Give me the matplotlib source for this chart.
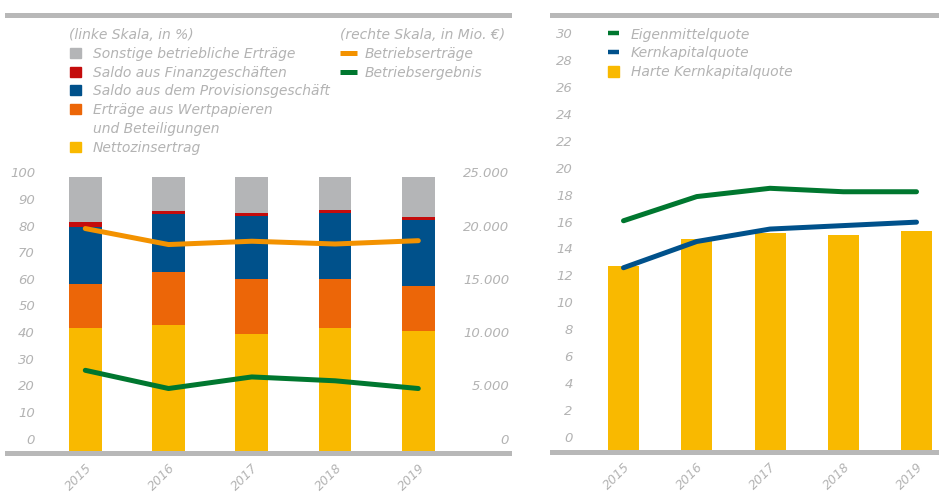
import matplotlib
matplotlib.use("Agg")
import matplotlib.pyplot as plt
from matplotlib.patches import Rectangle
from matplotlib.lines import Line2D
import numpy as np

# ---------------- data ----------------
years = ["2015", "2016", "2017", "2018", "2019"]

# left chart: structure of operating income (left scale, %)
nettozins = [45.1, 46.1, 42.8, 45.0, 43.9]
wertpapiere = [16.0, 19.4, 20.1, 17.9, 16.5]
provision = [20.5, 21.0, 23.0, 23.8, 23.9]
finanz = [1.8, 1.0, 1.1, 1.1, 1.0]
sonstige = [16.6, 12.5, 13.0, 12.2, 14.7]

# left chart lines (right scale, Mio. EUR)
betriebsertraege = [20300, 18850, 19150, 18900, 19200]
betriebsergebnis = [7450, 5800, 6850, 6500, 5800]

# right chart: capital ratios (%)
harte_kernkapital = [13.4, 15.4, 15.8, 15.7, 15.95]
kernkapital = [13.3, 15.2, 16.1, 16.35, 16.6]
eigenmittel = [16.7, 18.45, 19.05, 18.8, 18.8]

left_ticks = [0, 10, 20, 30, 40, 50, 60, 70, 80, 90, 100]
right_ticks = [0, 5000, 10000, 15000, 20000, 25000]
ratio_ticks = list(range(0, 31, 2))

# ---------------- style ----------------
C_GRAY = "#b4b5b7"
C_RED = "#c40c0c"
C_BLUE = "#00518b"
C_ORANGE = "#ec6608"
C_YELLOW = "#f9b900"
C_LORANGE = "#f39200"
C_GREEN = "#00772f"
C_TEXT = "#b3b3b3"
C_RULE = "#b8b8b8"

plt.rcParams["font.family"] = ["DejaVu Sans"]
plt.rcParams["font.style"] = "italic"
FS = 9.5      # tick labels
FS_LEG = 10   # legend texts
FS_X = 9      # year labels

W, H = 939, 492
fig = plt.figure(figsize=(W / 100, H / 100), dpi=100)


def fx(x):
    return x / W


def fy(y):
    return 1 - y / H


def add_axes_px(x0, x1, ytop, ybot):
    return fig.add_axes([fx(x0), fy(ybot), (x1 - x0) / W, (ybot - ytop) / H])


def style_axes(ax):
    for s in ["left", "right"]:
        ax.spines[s].set_visible(False)
    for s in ["top", "bottom"]:
        ax.spines[s].set_color(C_RULE)
        ax.spines[s].set_linewidth(3.6)
    ax.tick_params(length=0, colors=C_TEXT, labelsize=FS)
    ax.tick_params(axis="x", labelsize=FS_X, pad=6)


# ================= LEFT CHART =================
L_X0, L_X1, L_TOP, L_BOT = 7, 509, 14.5, 452.5
ax = add_axes_px(L_X0, L_X1, L_TOP, L_BOT)
style_axes(ax)
pxu = (L_BOT - 176.7) / 100.0  # pixels per percent
ax.set_ylim(0, (L_BOT - L_TOP) / pxu)
x = np.arange(len(years))
spacing = 83.25
ax.set_xlim(-(85.3 - L_X0) / spacing, 4 + (L_X1 - 418.3) / spacing)
bw = 32.7 / spacing

bottom = np.zeros(len(years))
for vals, col in [(nettozins, C_YELLOW), (wertpapiere, C_ORANGE), (provision, C_BLUE),
                  (finanz, C_RED), (sonstige, C_GRAY)]:
    ax.bar(x, vals, bw, bottom=bottom, color=col, zorder=1)
    bottom = bottom + np.array(vals)

# tick labels placed where the reference shows them
lab_pos = [(L_BOT - (438.7 - k * 2.664)) / pxu for k in left_ticks]
ax.set_yticks(lab_pos)
ax.set_yticklabels([str(k) for k in left_ticks])
ax.tick_params(axis="y", pad=-(35 - L_X0) * 0.72)
ax.set_xticks(x)
ax.set_xticklabels(years, rotation=45, ha="right", rotation_mode="anchor")

ax2 = ax.twinx()
ax2.set_ylim(0, ax.get_ylim()[1] * 250)
for s in ax2.spines.values():
    s.set_visible(False)
ax2.plot(x, betriebsertraege, color=C_LORANGE, lw=3.6, solid_capstyle="round", zorder=3)
ax2.plot(x, betriebsergebnis, color=C_GREEN, lw=3.6, solid_capstyle="round", zorder=3)
ax2.set_yticks([p * 250 for p in lab_pos[::2]])
ax2.set_yticklabels([f"{v:,}".replace(",", ".") for v in right_ticks])
ax2.tick_params(axis="y", length=0, colors=C_TEXT, labelsize=FS, pad=0)
for lbl in ax2.get_yticklabels():
    lbl.set_horizontalalignment("right")

# legend (left chart)
def ftext(xp, yp, s, **kw):
    fig.text(fx(xp), fy(yp), s, color=C_TEXT, fontsize=FS_LEG, va="baseline", ha="left", **kw)


def fsquare(x0, y0, w, h, col):
    fig.add_artist(Rectangle((fx(x0), fy(y0 + h)), w / W, h / H, color=col,
                             transform=fig.transFigure))


def fdash(x0, x1, yc, col, lw=3.6):
    fig.add_artist(Line2D([fx(x0), fx(x1)], [fy(yc), fy(yc)], color=col, lw=lw,
                          transform=fig.transFigure, solid_capstyle="butt"))


ftext(69, 39, "(linke Skala, in %)")
leg_left = [("Sonstige betriebliche Erträge", C_GRAY, 52.7),
            ("Saldo aus Finanzgeschäften", C_RED, 71.7),
            ("Saldo aus dem Provisionsgeschäft", C_BLUE, 90.3),
            ("Erträge aus Wertpapieren", C_ORANGE, 109.0),
            ("Nettozinsertrag", C_YELLOW, 146.7)]
for lab, col, yc in leg_left:
    fsquare(69.5, yc - 5, 11, 10, col)
    ftext(92.7, yc + 5.0, lab)
ftext(92.7, 132.7, "und Beteiligungen")

ftext(340, 39, "(rechte Skala, in Mio. €)")
for lab, col, yc in [("Betriebserträge", C_LORANGE, 53.3), ("Betriebsergebnis", C_GREEN, 71.7)]:
    fdash(340, 357, yc, col)
    ftext(364.3, yc + 5.0, lab)

# ================= RIGHT CHART =================
R_X0, R_X1, R_TOP, R_BOT = 552, 939, 15, 451.5
axr = add_axes_px(R_X0, R_X1, R_TOP, R_BOT)
style_axes(axr)
pxr = (R_BOT - 37.0) / 30.0
axr.set_ylim(0, (R_BOT - R_TOP) / pxr)
sp2 = 73.25
axr.set_xlim(-(623.5 - R_X0) / sp2, 4 + (R_X1 - 916.5) / sp2)
axr.bar(x, harte_kernkapital, 31 / sp2, color=C_YELLOW, zorder=1)
axr.plot(x, eigenmittel, color=C_GREEN, lw=3.6, solid_capstyle="round", zorder=3)
axr.plot(x, kernkapital, color=C_BLUE, lw=3.6, solid_capstyle="round", zorder=3)
rpos = [(R_BOT - (436.7 - k * 13.45)) / pxr for k in ratio_ticks]
axr.set_yticks(rpos)
axr.set_yticklabels([str(k) for k in ratio_ticks])
axr.tick_params(axis="y", pad=-(572.7 - R_X0) * 0.72)
axr.set_xticks(x)
axr.set_xticklabels(years, rotation=45, ha="right", rotation_mode="anchor")

fdash(608, 619, 33.3, C_GREEN, lw=3.2)
ftext(631, 38.5, "Eigenmittelquote")
fdash(608, 619, 51.7, C_BLUE, lw=3.2)
ftext(631, 57, "Kernkapitalquote")
fsquare(608, 66, 11, 10.5, C_YELLOW)
ftext(631, 76, "Harte Kernkapitalquote")

fig.savefig("out.png", dpi=100)
